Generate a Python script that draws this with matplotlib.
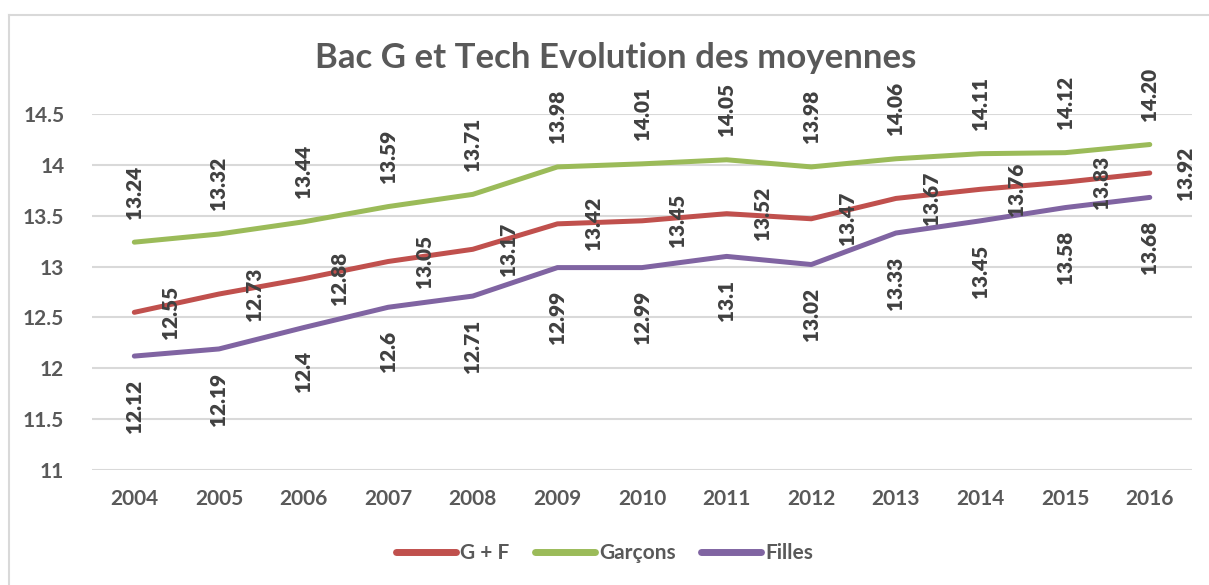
import matplotlib
matplotlib.use('Agg')
import matplotlib.pyplot as plt
from matplotlib.lines import Line2D

# données
years = ['2004', '2005', '2006', '2007', '2008', '2009', '2010',
         '2011', '2012', '2013', '2014', '2015', '2016']
gf = [12.55, 12.73, 12.88, 13.05, 13.17, 13.42, 13.45, 13.52, 13.47, 13.67, 13.76, 13.83, 13.92]
garcons = [13.24, 13.32, 13.44, 13.59, 13.71, 13.98, 14.01, 14.05, 13.98, 14.06, 14.11, 14.12, 14.20]
filles = [12.12, 12.19, 12.4, 12.6, 12.71, 12.99, 12.99, 13.1, 13.02, 13.33, 13.45, 13.58, 13.68]
yticks = [11, 11.5, 12, 12.5, 13, 13.5, 14, 14.5]

plt.rcParams['font.family'] = ['Lato', 'DejaVu Sans']
plt.rcParams['font.weight'] = 'bold'

c_gf = '#C0504D'
c_g = '#9BBB59'
c_f = '#8064A2'
txt = '#595959'
lab = '#404040'

fig = plt.figure(figsize=(12.09, 5.85), dpi=100)
ax = fig.add_axes([0.0761, 0.1966, 0.9099, 0.6085])

x = list(range(len(years)))
ax.plot(x, gf, color=c_gf, lw=3.6, solid_capstyle='round', zorder=3)
ax.plot(x, garcons, color=c_g, lw=3.6, solid_capstyle='round', zorder=3)
ax.plot(x, filles, color=c_f, lw=3.6, solid_capstyle='round', zorder=3)

# étiquettes de données
for i in x:
    ax.annotate('{:.2f}'.format(gf[i]), (i, gf[i]), xytext=(19, 0), textcoords='offset points',
                rotation=90, ha='left', va='center', fontsize=15, color=lab, fontweight='heavy')
    ax.annotate('{:.2f}'.format(garcons[i]), (i, garcons[i]), xytext=(0, 17), textcoords='offset points',
                rotation=90, ha='center', va='bottom', fontsize=15, color=lab, fontweight='heavy')
    ax.annotate('{:g}'.format(filles[i]), (i, filles[i]), xytext=(0, -17), textcoords='offset points',
                rotation=90, ha='center', va='top', fontsize=15, color=lab, fontweight='heavy')

ax.set_xlim(-0.5, len(years) - 0.5)
ax.set_ylim(11, 14.5)
ax.set_yticks(yticks)
ax.set_yticklabels(['{:g}'.format(v) for v in yticks])
ax.set_xticks(x)
ax.set_xticklabels(years)
ax.tick_params(axis='both', length=0, labelsize=15, labelcolor=txt)
ax.tick_params(axis='x', pad=14)
ax.tick_params(axis='y', pad=20)
for s in ax.spines.values():
    s.set_visible(False)
ax.grid(axis='y', color='#D9D9D9', lw=1.5)
ax.set_axisbelow(True)

fig.text(0.509, 0.90, 'Bac G et Tech Evolution des moyennes', ha='center', va='center',
         fontsize=25, fontweight='bold', color=txt)

handles = [Line2D([], [], color=c_gf, lw=5, solid_capstyle='round'),
           Line2D([], [], color=c_g, lw=5, solid_capstyle='round'),
           Line2D([], [], color=c_f, lw=5, solid_capstyle='round')]
leg = fig.legend(handles, ['G + F', 'Garçons', 'Filles'], loc='center', bbox_to_anchor=(0.5, 0.055),
                 ncol=3, frameon=False, fontsize=15, handlelength=2.9, handletextpad=0.2,
                 columnspacing=1.2)
for t in leg.get_texts():
    t.set_color(txt)

# cadre du graphique
fig.add_artist(Line2D([0.0074, 0.0074], [0, 0.974], color='#D9D9D9', lw=1.5, transform=fig.transFigure))
fig.add_artist(Line2D([0.0074, 1], [0.974, 0.974], color='#D9D9D9', lw=1.5, transform=fig.transFigure))

fig.savefig('out.png', dpi=100)
